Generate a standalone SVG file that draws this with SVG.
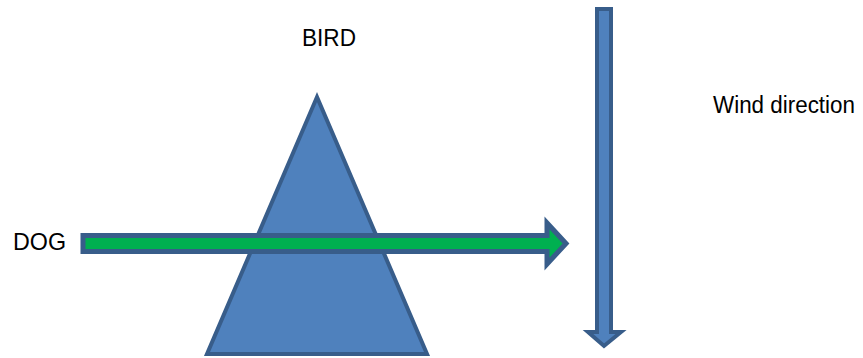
<svg xmlns="http://www.w3.org/2000/svg" width="863" height="358" viewBox="0 0 863 358">
<style>
.lbl{font-family:"Liberation Sans",Arial,sans-serif;font-size:24px;fill:#000}
.wind{font-size:23px}
.shape{fill:#4F81BD;stroke:#385D8A;stroke-width:4;stroke-linejoin:miter}
.green{fill:#00B050;stroke:#385D8A;stroke-width:5;stroke-linejoin:miter}
</style>
<rect width="863" height="358" fill="#fff"/>
<g id="bird">
<polygon class="shape" points="317,97 427,354 207,354"/>
<text class="lbl" x="302" y="46" textLength="54" lengthAdjust="spacingAndGlyphs">BIRD</text>
</g>
<g id="wind">
<path class="shape" d="M597,9 H611 V332 H621 L604,346 L588,332 H597 Z"/>
<text class="lbl wind" x="713" y="113" textLength="142" lengthAdjust="spacingAndGlyphs">Wind direction</text>
</g>
<g id="dog">
<text class="lbl" x="13" y="250" textLength="53" lengthAdjust="spacingAndGlyphs">DOG</text>
</g>
<g id="connectors">
<path class="green" d="M83,235.5 H547 V223 L566,243.5 L547,264 V251.5 H83 Z"/>
</g>
</svg>
